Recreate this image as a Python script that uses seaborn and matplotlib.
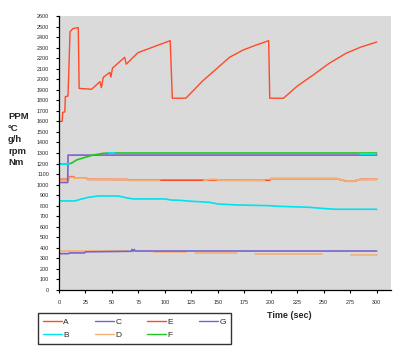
import pandas as pd
import matplotlib
matplotlib.use("Agg")
import matplotlib.pyplot as plt
from matplotlib.lines import Line2D
import seaborn as sns

# Reeksen (tijd in sec, waarde)
# A: sawtooth PPM
t_A = [0, 3, 3.5, 5.5, 6, 8.5, 9, 10.4, 13, 18.2, 19, 30.8, 38.7, 40, 41.8, 48, 49, 50.5, 62, 63.5,
       74.5, 90, 105, 107, 119.8, 136, 150, 161, 174, 185, 198, 199, 212, 225, 240, 255, 271, 285, 300]
v_A = [1600, 1600, 1685, 1690, 1835, 1840, 1990, 2450, 2480, 2490, 1913, 1905, 1977, 1920, 2018, 2065, 2020, 2105, 2208, 2143,
       2252, 2310, 2366, 1820, 1820, 1987, 2110, 2208, 2278, 2320, 2366, 1820, 1820, 1935, 2040, 2150, 2246, 2305, 2353]

# B: cyaan ~850
t_B = [0, 15, 20, 28, 37, 56, 63, 70, 100, 106, 114, 125, 142, 150, 168, 199, 208, 236, 248, 261, 300]
v_B = [845, 845, 860, 880, 892, 892, 876, 864, 864, 854, 851, 842, 832, 816, 807, 800, 794, 785, 775, 766, 766]

# C: paars 1020 -> 1280
t_C = [0, 8.2, 8.6, 300]
v_C = [1020, 1020, 1280, 1280]

# E: rood ~1050
t_E = [0, 9, 10, 14, 15, 26, 27, 65, 66, 137, 199, 200, 262, 272, 278, 285, 300]
v_E = [1050, 1050, 1075, 1075, 1062, 1062, 1050, 1048, 1042, 1042, 1041, 1056, 1056, 1032, 1032, 1050, 1050]

# D: oranje ~1050 (bovenop E, met gaten)
t_D = [1, 9, 10, 14, 15, 26, 27, 65, 66, 95, None, 137, 143, 149, 150, 194, None, 199, 200, 262, 272, 278, 285, 300]
v_D = [1042, 1042, 1068, 1068, 1062, 1062, 1050, 1046, 1040, 1040, None, 1041, 1050, 1050, 1041, 1041, None, 1050, 1057, 1057, 1033, 1033, 1050, 1050]

# F: groen 1195 -> 1300
t_F = [9, 12, 16.7, 25, 32.4, 41.8, 50, 300]
v_F = [1195, 1205, 1234, 1260, 1281, 1297, 1300, 1300]

# G: paars ~350 -> 370
t_G = [0, 9, 10, 24, 25, 65, 68, 69, 70, 71, 72, 300]
v_G = [345, 345, 352, 352, 362, 367, 367, 385, 367, 385, 370, 370]

# extra lijnen zonder legenda
t_low = [0, 65, None, 90, 120, None, 128, 168, None, 185, 248, None, 276, 300]
v_low = [372, 372, None, 358, 358, None, 348, 348, None, 339, 339, None, 329, 329]
t_cyan2 = [0, 9, None, 47, 52, None, 284, 298]
v_cyan2 = [1200, 1200, None, 1300, 1300, None, 1294, 1294]

colors = {"A": "#FF4A26", "B": "#00E2EE", "C": "#7A62CC", "D": "#F5B074",
          "E": "#FF4A26", "F": "#1FC81F", "G": "#7A62CC"}


def to_frame(name, ts, vs):
    rows = []
    seg = 0
    for t, v in zip(ts, vs):
        if t is None:
            seg += 1
            continue
        rows.append({"series": name, "seg": seg, "t": t, "v": v})
    return pd.DataFrame(rows)


series = [
    ("low", t_low, v_low, colors["D"], 1.2),
    ("G", t_G, v_G, colors["G"], 1.2),
    ("A", t_A, v_A, colors["A"], 1.0),
    ("E", t_E, v_E, colors["E"], 1.2),
    ("D", t_D, v_D, colors["D"], 1.3),
    ("B", t_B, v_B, colors["B"], 1.2),
    ("C", t_C, v_C, colors["C"], 1.2),
    ("F", t_F, v_F, colors["F"], 1.2),
    ("cyan2", t_cyan2, v_cyan2, colors["B"], 1.5),
]

sns.set_style("white")
plt.rcParams["font.family"] = ["Liberation Sans", "DejaVu Sans"]

fig = plt.figure(figsize=(4.01, 3.53), dpi=100)
ax = fig.add_axes([59 / 401, 63 / 353, 332 / 401, 274 / 353])
ax.set_facecolor("#DADADA")

for name, ts, vs, col, lw in series:
    df = to_frame(name, ts, vs)
    sns.lineplot(data=df, x="t", y="v", units="seg", estimator=None, sort=False,
                 color=col, lw=lw, legend=False, ax=ax)

ax.set_xlim(0, 313.5)
ax.set_ylim(0, 2600)
ax.set_xticks(range(0, 301, 25))
ax.set_yticks(range(0, 2601, 100))
ax.set_xlabel("")
ax.set_ylabel("")
ax.tick_params(axis="both", labelsize=3.9, length=2.2, width=0.8, pad=5, direction="out",
               bottom=True, left=True, color="black")
for s in ["top", "right"]:
    ax.spines[s].set_visible(False)
for s in ["left", "bottom"]:
    ax.spines[s].set_color("black")
    ax.spines[s].set_linewidth(0.9)

fig.text(8 / 401, 1 - 112 / 353, "PPM\n°C\ng/h\nrpm\nNm", ha="left", va="top",
         fontsize=6.8, fontweight="bold", linespacing=1.37)
fig.text(289 / 401, 1 - 316 / 353, "Time (sec)", ha="center", va="center",
         fontsize=6.5, fontweight="bold")

handles = [Line2D([], [], color=colors[k], lw=1.0) for k in "ABCDEFG"]
leg = fig.legend(handles, list("ABCDEFG"), loc="upper left",
                 bbox_to_anchor=(38 / 401, 1 - 313 / 353), ncol=4, fontsize=6,
                 frameon=True, fancybox=False, edgecolor="black", handlelength=2.3,
                 handletextpad=0.15, columnspacing=3.1, labelspacing=0.6, borderpad=0.6,
                 borderaxespad=0)
leg.get_frame().set_linewidth(1.0)

fig.savefig("out.png", dpi=100)
